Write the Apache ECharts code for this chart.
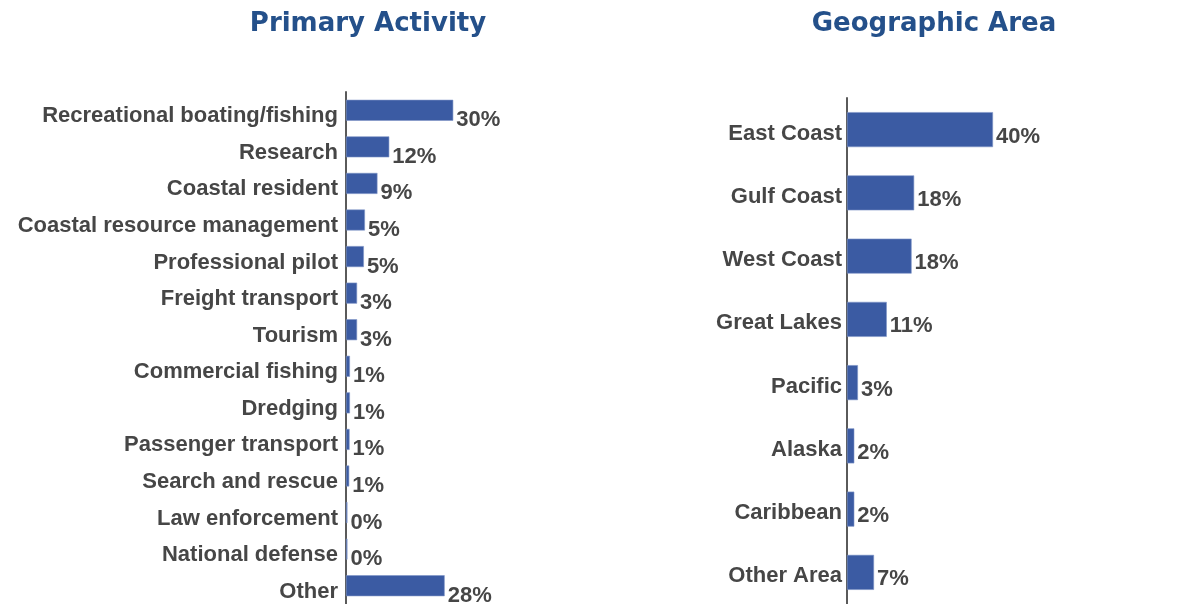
<!DOCTYPE html>
<html>
<head>
<meta charset="utf-8">
<script src="https://cdn.jsdelivr.net/npm/echarts@6/dist/echarts.min.js"></script>
<style>
  html, body { margin: 0; padding: 0; background: #fff; }
  #main { width: 1196px; height: 604px; }
</style>
</head>
<body>
<div id="main"></div>
<script>
  // 左图: primary activity
  var activityNames = ['Recreational boating/fishing', 'Research', 'Coastal resident',
    'Coastal resource management', 'Professional pilot', 'Freight transport', 'Tourism',
    'Commercial fishing', 'Dredging', 'Passenger transport', 'Search and rescue',
    'Law enforcement', 'National defense', 'Other'];
  var activityValues = [30, 12.1, 8.8, 5.3, 5.0, 3.1, 3.1, 1.1, 1.1, 1.0, 0.9, 0.4, 0.4, 27.6];

  // 右图: geographic area
  var areaNames = ['East Coast', 'Gulf Coast', 'West Coast', 'Great Lakes', 'Pacific',
    'Alaska', 'Caribbean', 'Other Area'];
  var areaValues = [40, 18.4, 17.7, 10.9, 3.0, 2.0, 2.0, 7.4];

  var barColor = '#3b5ba3';
  var textColor = '#464646';
  var labelFont = 'Liberation Sans, Arial, sans-serif';

  function pct(p) {
    return Math.round(p.value) + '%';
  }

  function catAxis(idx, names, margin, shift) {
    return {
      type: 'category',
      gridIndex: idx,
      data: names,
      inverse: true,
      axisLine: { show: true, lineStyle: { color: '#5a5a5a', width: 2 } },
      axisTick: { show: false },
      axisLabel: {
        margin: margin,
        formatter: function (v) { return '{a|' + v + '}'; },
        rich: {
          a: {
            color: textColor,
            fontFamily: labelFont,
            fontWeight: 'bold',
            fontSize: 22,
            padding: [shift, 0, 0, 0]
          }
        }
      }
    };
  }

  function valAxis(idx) {
    return {
      type: 'value',
      gridIndex: idx,
      min: 0,
      max: 40,
      show: false,
      splitLine: { show: false }
    };
  }

  function barSeries(idx, values, width, dy) {
    return {
      type: 'bar',
      xAxisIndex: idx,
      yAxisIndex: idx,
      data: values,
      barWidth: width,
      itemStyle: { color: barColor, borderColor: '#7f95c8', borderWidth: 0.6 },
      label: {
        show: true,
        position: 'right',
        distance: 3,
        offset: [0, dy],
        formatter: pct,
        color: textColor,
        fontFamily: labelFont,
        fontWeight: 'bold',
        fontSize: 22
      }
    };
  }

  var myChart = echarts.init(document.getElementById('main'));
  myChart.setOption({
    animation: false,
    title: [
      {
        text: 'Primary Activity',
        left: 363, top: 6, textAlign: 'center',
        textStyle: { color: '#24508a', fontFamily: 'DejaVu Sans', fontWeight: 'bold', fontSize: 26 }
      },
      {
        text: 'Geographic Area',
        left: 929, top: 6, textAlign: 'center',
        textStyle: { color: '#24508a', fontFamily: 'DejaVu Sans', fontWeight: 'bold', fontSize: 26 }
      }
    ],
    grid: [
      { left: 346, top: 92, width: 143, height: 513 },
      { left: 847, top: 98, width: 146, height: 508 }
    ],
    xAxis: [valAxis(0), valAxis(1)],
    yAxis: [catAxis(0, activityNames, 8, 12), catAxis(1, areaNames, 5, 8)],
    series: [barSeries(0, activityValues, 21, 10), barSeries(1, areaValues, 35, 7)]
  });
</script>
</body>
</html>
